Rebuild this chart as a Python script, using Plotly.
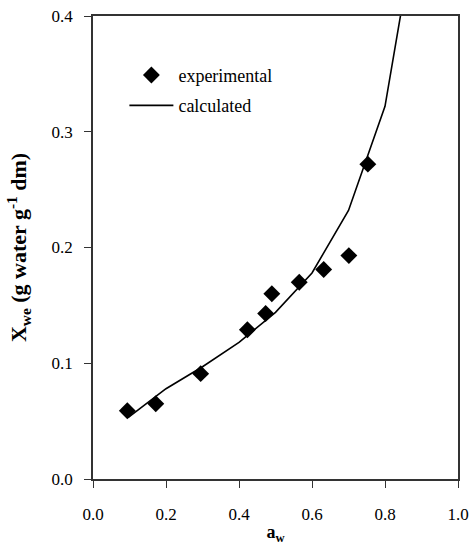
import plotly.graph_objects as go

# experimental data
exp_aw = [0.094, 0.172, 0.295, 0.423, 0.473, 0.490, 0.565, 0.632, 0.701, 0.753]
exp_x = [0.059, 0.065, 0.091, 0.129, 0.143, 0.160, 0.170, 0.181, 0.193, 0.272]

# calculated curve
calc_aw = [0.096, 0.2, 0.3, 0.4, 0.5, 0.6, 0.7, 0.8, 0.845]
calc_x = [0.053, 0.078, 0.097, 0.118, 0.144, 0.178, 0.232, 0.322, 0.405]

x_ticks = [0.0, 0.2, 0.4, 0.6, 0.8, 1.0]
y_ticks = [0.0, 0.1, 0.2, 0.3, 0.4]

FONT = "Liberation Serif"

fig = go.Figure()
fig.add_trace(go.Scatter(
    x=exp_aw, y=exp_x, mode="markers", name="experimental",
    legendgroup="a",
    marker=dict(symbol="diamond", size=13, color="black"),
    cliponaxis=False,
))
fig.add_trace(go.Scatter(
    x=calc_aw, y=calc_x, mode="lines", name="calculated",
    legendgroup="b",
    line=dict(color="black", width=1.6),
))

axis_common = dict(
    showline=True, linecolor="#333", linewidth=1.5, mirror=True,
    ticks="outside", ticklen=7, tickwidth=1.2, tickcolor="#333",
    showgrid=False, zeroline=False, automargin=False,
    tickfont=dict(family=FONT, size=17, color="black"),
)

fig.update_layout(
    width=474, height=545,
    margin=dict(l=93, r=16, t=16, b=66),
    plot_bgcolor="white", paper_bgcolor="white",
    font=dict(family=FONT, color="black"),
    xaxis=dict(range=[0, 1.0], tickvals=x_ticks,
               ticktext=[f"{v:.1f}" for v in x_ticks],
               ticklabelstandoff=12,
               title=dict(text="<b>a<sub>w</sub></b>", standoff=4,
                          font=dict(family=FONT, size=18, color="black")),
               **axis_common),
    yaxis=dict(range=[0, 0.4], tickvals=y_ticks,
               ticktext=[f"{v:.1f}" for v in y_ticks],
               ticklabelstandoff=8,
               title=dict(text="<b>X<sub>we</sub> (g water g<sup>-1</sup> dm)</b>", standoff=19,
                          font=dict(family=FONT, size=22, color="black")),
               **axis_common),
    legend=dict(x=0.086, y=0.912, xanchor="left", yanchor="top",
                bgcolor="rgba(0,0,0,0)", traceorder="grouped", tracegroupgap=4,
                itemwidth=44,
                font=dict(family=FONT, size=18, color="black")),
    showlegend=True,
)

fig.write_html("out.html", config={"displayModeBar": False},
               post_script="document.body.style.margin='0';")
